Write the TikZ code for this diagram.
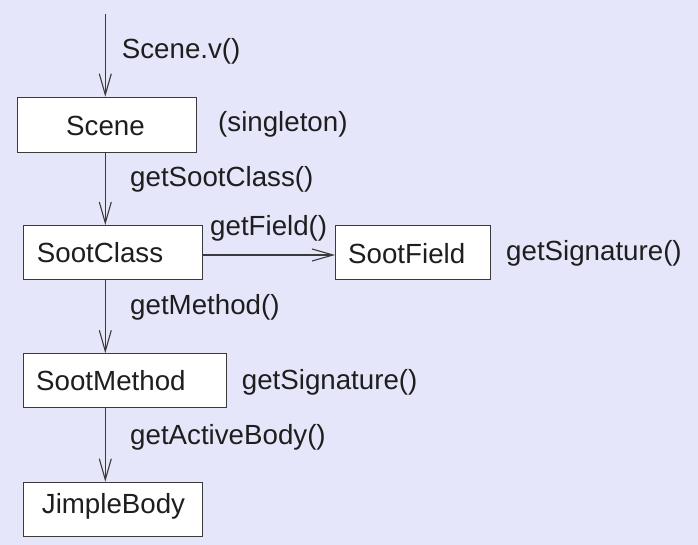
\documentclass[tikz,border=0pt]{standalone}
\usepackage{fontspec}
\setmainfont{Liberation Sans}
\usetikzlibrary{arrows.meta}
\definecolor{bg}{HTML}{E6E6FA}
\definecolor{ln}{HTML}{3A3A3A}
\definecolor{tx}{HTML}{1E1E1E}
\tikzset{
  box/.style={draw=ln, fill=white, line width=1.1pt, rectangle, inner sep=0pt, anchor=north west},
  txt/.style={anchor=base west, inner sep=0pt, text=tx, font=\fontsize{27.7}{30}\selectfont},
  conn/.style={draw=ln, line width=1.1pt, -{Straight Barb[length=21pt,width=12pt,line width=1.1pt]}}
}
\begin{document}
\begin{tikzpicture}[x=1pt,y=-1pt]
\useasboundingbox (0,0) rectangle (698,545);
\fill[bg] (0,0) rectangle (698,545);
% boxes
\node[box, minimum width=179pt, minimum height=55pt] (scene) at (16.7,96.7) {};
\node[box, minimum width=179pt, minimum height=53.5pt] (sootclass) at (22.7,225) {};
\node[box, minimum width=155pt, minimum height=54.3pt] (sootfield) at (335,225) {};
\node[box, minimum width=202.4pt, minimum height=54pt] (sootmethod) at (23.3,353.3) {};
\node[box, minimum width=178.4pt, minimum height=54.3pt] (jimplebody) at (23.3,481.7) {};
% box texts
\node[txt] (tscene) at (66,135.5) {Scene};
\node[txt] (tsootclass) at (36.7,262) {SootClass};
\node[txt] (tsootfield) at (348,263) {SootField};
\node[txt] (tsootmethod) at (36,390) {SootMethod};
\node[txt] (tjimple) at (41.7,513) {JimpleBody};
% labels
\node[txt] (lv) at (121.7,58.2) {Scene.v()};
\node[txt] (lsingle) at (218,131.6) {(singleton)};
\node[txt] (lgsc) at (130,186.6) {getSootClass()};
\node[txt] (lgf) at (210,236) {getField()};
\node[txt] (lsig1) at (506,260.7) {getSignature()};
\node[txt] (lgm) at (130,314) {getMethod()};
\node[txt] (lsig2) at (241.7,389) {getSignature()};
\node[txt] (lgab) at (130,444) {getActiveBody()};
% connectors
\coordinate (start) at (105.3,14);
\draw[conn] (start) -- (start |- scene.north);
\draw[conn] (scene.south -| start) -- (start |- sootclass.north);
\draw[conn] (sootclass.east |- 0,255) -- (sootfield.west |- 0,255);
\draw[conn] (sootclass.south -| start) -- (start |- sootmethod.north);
\draw[conn] (sootmethod.south -| start) -- (start |- jimplebody.north);
\end{tikzpicture}
\end{document}
